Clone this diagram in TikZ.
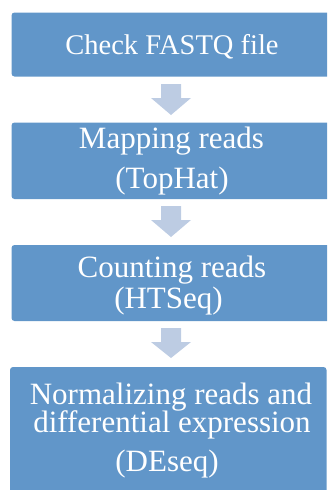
\documentclass[tikz,border=0pt]{standalone}
\usepackage{fontspec}
\setmainfont{Liberation Serif}
\definecolor{boxblue}{RGB}{97,150,201}
\definecolor{arrowblue}{RGB}{189,204,227}
\tikzset{
  stepbox/.style={fill=boxblue, draw=none, rounded corners=3pt},
  steptext/.style={anchor=base, inner sep=0pt, text=white, font=\fontsize{31}{36}\selectfont},
  flowarrow/.style={fill=arrowblue, draw=none}
}
% block arrow: centre x, shaft top, head start, tip
\newcommand{\blockarrow}[4]{%
  \fill[flowarrow] (#1-10,#2) -- (#1+10,#2) -- (#1+10,#3) -- (#1+20,#3)
    -- (#1,#4) -- (#1-20,#3) -- (#1-10,#3) -- cycle;}
\begin{document}
\begin{tikzpicture}[x=1pt,y=-1pt]
\useasboundingbox (0,0) rectangle (327,490);
\begin{scope}
\clip (0,0) rectangle (327,490);
% step boxes
\fill[stepbox] (11.5,12.5) rectangle (345,76.5);
\fill[stepbox] (11.5,122.5) rectangle (345,199);
\fill[stepbox] (11.5,245) rectangle (345,321);
\fill[stepbox] (10,367) rectangle (326.5,500);
\end{scope}
% arrows between steps
\blockarrow{171}{84}{98}{115}
\blockarrow{171}{206}{220}{237}
\blockarrow{171}{328}{342}{358}
% labels
\node[steptext, font=\fontsize{28.5}{33}\selectfont] (t1) at (172,54.5) {Check FASTQ file};
\node[steptext] (t2a) at (171.5,148.5) {Mapping reads};
\node[steptext] (t2b) at (172,188.5) {(TopHat)};
\node[steptext] (t3a) at (172,277) {Counting reads};
\node[steptext] (t3b) at (168.5,308.5) {(HTSeq)};
\node[steptext] (t4a) at (171,404) {Normalizing reads and};
\node[steptext] (t4b) at (172,432.5) {differential expression};
\node[steptext] (t4c) at (167,471.5) {(DEseq)};
\end{tikzpicture}
\end{document}
